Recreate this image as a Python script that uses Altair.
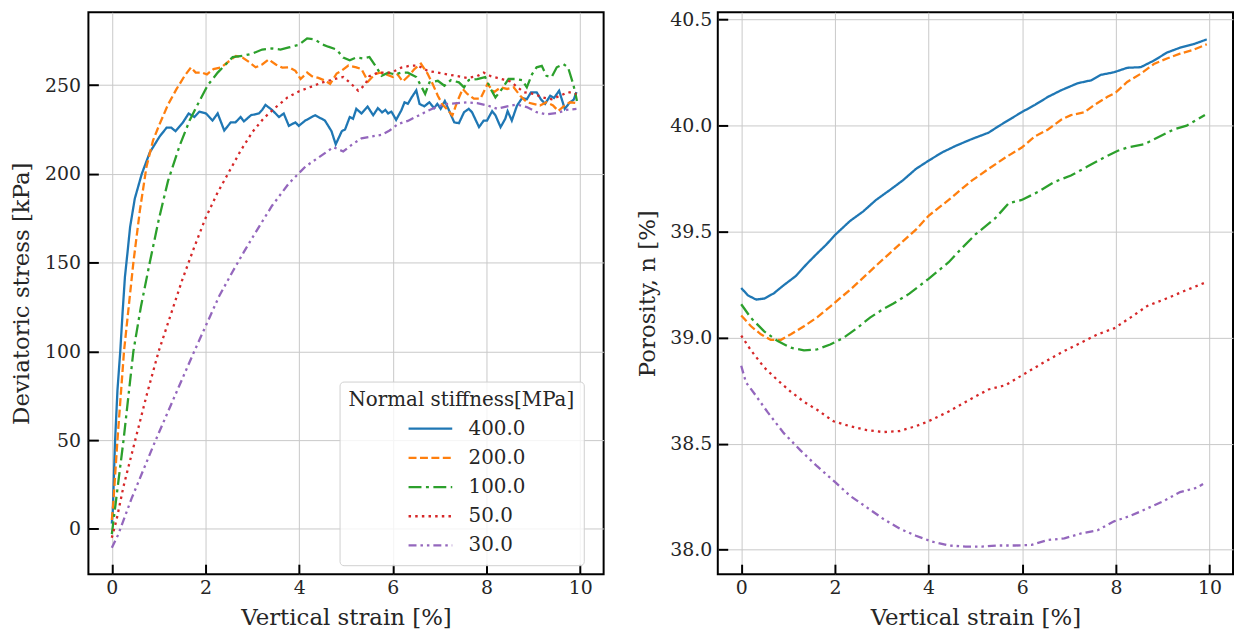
import altair as alt
import pandas as pd

FONT = "DejaVu Serif"
TXT = "#262626"

series_labels = ["400.0", "200.0", "100.0", "50.0", "30.0"]
series_colors = ["#1f77b4", "#ff7f0e", "#2ca02c", "#d62728", "#9467bd"]
series_dashes = [[1, 0], [8, 3.5], [13, 4.5, 3, 4.5], [2.5, 4.2], [8, 4, 2.5, 4, 2.5, 4]]
legend_title = "Normal stiffness[MPa]"

x_ticks = [0, 2, 4, 6, 8, 10]
stress_ticks = [0, 50, 100, 150, 200, 250]
poro_ticks = [38.0, 38.5, 39.0, 39.5, 40.0, 40.5]

# ---- Deviatoric stress vs vertical strain ----
s400_x = [0, 0.02, 0.07, 0.12, 0.18, 0.23, 0.28, 0.34, 0.39, 0.49, 0.64, 0.81, 0.88, 1.02, 1.17, 1.27,
          1.36, 1.52, 1.64, 1.76, 1.87, 2.01, 2.15, 2.26, 2.40, 2.54, 2.64, 2.75, 2.82, 2.97, 3.14,
          3.21, 3.28, 3.42, 3.57, 3.67, 3.78, 3.92, 3.99, 4.13, 4.34, 4.55, 4.69, 4.78, 4.91, 4.98,
          5.08, 5.15, 5.22, 5.33, 5.46, 5.58, 5.68, 5.77, 5.84, 5.90, 5.97, 6.07, 6.18, 6.25, 6.32,
          6.40, 6.50, 6.57, 6.67, 6.78, 6.88, 6.95, 7.02, 7.11, 7.20, 7.31, 7.41, 7.52, 7.62, 7.69,
          7.84, 7.94, 8.01, 8.12, 8.19, 8.30, 8.40, 8.45, 8.54, 8.65, 8.76, 8.86, 8.95, 9.07, 9.16,
          9.25, 9.36, 9.44, 9.55, 9.67, 9.78, 9.86, 9.92]
s400_y = [3, 10, 50, 78, 100, 122, 142, 157, 170, 186, 200, 212, 215, 221, 226, 226,
          224, 229, 234, 232, 235, 234, 230, 234, 224.4, 229, 229, 232, 229.5, 233, 234,
          236, 238.8, 236, 232, 234, 227, 229, 227, 230, 233, 230, 224, 216.6, 224, 225,
          232, 231, 236.6, 234, 237.9, 233, 237, 234.6, 236, 234, 235, 230.4, 235.7, 240.3, 239.4,
          243, 247, 239.4, 238, 240.3, 237, 239.4, 236.6, 241, 235.7, 229, 228.5, 234.7, 236.6, 234.7,
          226.3, 230, 230, 235.3, 233, 226.3, 231, 235.3, 230, 238.4, 242.7, 242, 245.9, 245.9, 242,
          239.4, 244, 242.7, 246.8, 236.6, 240.3, 241.7, 246]

s200_x = [0, 0.03, 0.12, 0.26, 0.46, 0.60, 0.74, 0.88, 1.02, 1.20, 1.38, 1.55, 1.69, 1.79, 1.93, 2.03,
          2.17, 2.34, 2.51, 2.65, 2.79, 2.93, 3.07, 3.21, 3.35, 3.50, 3.64, 3.78, 3.92, 4.03, 4.17,
          4.27, 4.41, 4.56, 4.66, 4.80, 4.90, 5.05, 5.22, 5.33, 5.47, 5.61, 5.72, 5.86, 6.00, 6.10,
          6.21, 6.35, 6.46, 6.60, 6.74, 6.85, 6.96, 7.06, 7.17, 7.27, 7.38, 7.49, 7.59, 7.73, 7.87,
          8.02, 8.16, 8.30, 8.44, 8.58, 8.72, 8.86, 9.00, 9.14, 9.28, 9.42, 9.53, 9.67, 9.78, 9.92]
s200_y = [5, 14, 50, 100, 150, 179.6, 204, 218.8, 228, 239, 247.7, 255, 260, 257, 257, 256,
          259, 260, 263.6, 266.4, 265.5, 263, 260, 261.6, 264.4, 261.6, 259.8, 260, 258, 253.4, 257,
          255, 254, 252.4, 250.6, 256.5, 258, 261, 260, 259, 252, 256, 257, 256, 254.5, 256,
          252, 255.5, 259, 262, 256.5, 250.6, 244, 239, 236, 232.8, 241, 247.8, 245, 242.3, 242.3,
          250.6, 246, 248.7, 247.8, 248.7, 244, 240.3, 239.4, 238.5, 240.3, 238.5, 235.4, 238.5, 240.3, 239.8]

s100_x = [0, 0.08, 0.25, 0.46, 0.62, 0.81, 1.00, 1.20, 1.45, 1.66, 1.87, 2.05, 2.26, 2.43, 2.58, 2.79,
          3.00, 3.21, 3.42, 3.60, 3.78, 3.99, 4.17, 4.34, 4.48, 4.62, 4.80, 4.94, 5.08, 5.22, 5.36,
          5.50, 5.65, 5.76, 5.90, 6.04, 6.18, 6.32, 6.50, 6.60, 6.69, 6.78, 6.96, 7.10, 7.24, 7.41,
          7.52, 7.62, 7.80, 7.97, 8.09, 8.19, 8.33, 8.47, 8.62, 8.76, 8.86, 8.97, 9.07, 9.18, 9.28,
          9.39, 9.50, 9.64, 9.74, 9.85, 9.90, 9.93]
s100_y = [-3, 14, 50, 100, 125, 150, 174, 196, 216, 230, 241, 250, 257, 261.6, 265.8, 266.4,
          267.7, 270, 270.6, 270, 271.2, 272.6, 276.3, 275.7, 273, 271.6, 270, 265.5, 264, 265.5, 265,
          265.8, 260, 255.2, 257, 256, 257, 257, 254.5, 249.6, 245, 251.5, 252.4, 249.6, 252.8, 251.5,
          248.7, 252.8, 253.4, 254.5, 247.8, 243, 247.8, 253.4, 253.4, 252.8, 248.7, 256, 260, 260.8, 255.2,
          254.5, 260, 261.8, 260, 250.6, 245, 241]

s50_x = [0, 0.10, 0.25, 0.50, 0.75, 1.00, 1.25, 1.50, 1.75, 2.00, 2.25, 2.50, 2.75, 3.00, 3.25, 3.50,
         3.75, 4.00, 4.25, 4.50, 4.84, 4.94, 5.10, 5.26, 5.40, 5.50, 5.68, 5.97, 6.18, 6.35, 6.53,
         6.74, 6.96, 7.17, 7.38, 7.59, 7.80, 7.94, 8.09, 8.23, 8.37, 8.51, 8.65, 8.79, 9.00, 9.21,
         9.39, 9.57, 9.74, 9.92]
s50_y = [-5, 5, 24, 50, 76, 100, 120, 140, 158, 175, 189, 201, 213, 223.5, 231.5, 237.5,
         243, 246.5, 249, 251.5, 254, 254.5, 251, 246.8, 250, 255, 257, 257, 259.8, 260.8, 261,
         258, 257, 256, 255, 254, 255, 257, 255, 254, 253, 252, 249, 246, 245, 243,
         242, 244, 246, 245]

s30_x = [0, 0.14, 0.42, 0.92, 1.38, 1.76, 2.29, 2.58, 2.82, 3.00, 3.42, 3.78, 4.13, 4.48, 4.73, 4.94,
         5.12, 5.33, 5.54, 5.76, 5.93, 6.11, 6.32, 6.53, 6.74, 6.96, 7.17, 7.38, 7.59, 7.80, 8.02,
         8.23, 8.44, 8.65, 8.86, 9.07, 9.28, 9.50, 9.71, 9.92]
s30_y = [-10.7, -3, 17, 49, 77, 100, 131, 145, 156, 164, 182, 194.6, 204, 210.4, 215, 212.6,
         216.3, 220, 221, 222, 224.4, 228, 229.8, 232.6, 235.4, 238, 239.4, 239.8, 240.3, 239.8, 238.5,
         236.6, 238, 239, 237.6, 234.7, 233.5, 234.2, 236, 236.6]

# ---- Porosity vs vertical strain ----
p400_x = [0, 0.14, 0.32, 0.50, 0.70, 0.91, 1.16, 1.40, 1.61, 1.82, 2.00, 2.32, 2.60, 2.88, 3.17, 3.45,
          3.73, 4.00, 4.29, 4.57, 4.90, 5.28, 5.49, 5.78, 5.99, 6.27, 6.55, 6.83, 7.18, 7.47, 7.68,
          7.96, 8.24, 8.53, 8.81, 9.09, 9.37, 9.65, 9.94]
p400_y = [39.235, 39.20, 39.18, 39.185, 39.21, 39.248, 39.29, 39.348, 39.395, 39.44, 39.484, 39.55,
          39.595, 39.65, 39.696, 39.742, 39.796, 39.835, 39.874, 39.904, 39.935, 39.967, 39.997, 40.036,
          40.064, 40.098, 40.136, 40.167, 40.20, 40.214, 40.24, 40.252, 40.273, 40.276, 40.307, 40.345,
          40.368, 40.384, 40.407]

p200_x = [0, 0.21, 0.42, 0.63, 0.85, 1.06, 1.34, 1.62, 1.90, 2.00, 2.32, 2.60, 2.88, 3.17, 3.45, 3.73,
          4.00, 4.43, 4.70, 4.93, 5.28, 5.64, 5.99, 6.27, 6.55, 6.83, 7.04, 7.33, 7.54, 7.82, 8.00,
          8.24, 8.53, 8.81, 9.09, 9.37, 9.65, 9.94]
p200_y = [39.105, 39.054, 39.016, 38.99, 38.99, 39.016, 39.054, 39.096, 39.147, 39.166, 39.225, 39.282,
          39.34, 39.398, 39.454, 39.51, 39.575, 39.65, 39.70, 39.742, 39.796, 39.85, 39.897, 39.95,
          39.982, 40.028, 40.05, 40.064, 40.098, 40.136, 40.157, 40.206, 40.245, 40.291, 40.317, 40.34,
          40.358, 40.384]

p100_x = [0, 0.21, 0.49, 0.78, 1.06, 1.34, 1.62, 1.90, 2.18, 2.46, 2.75, 3.03, 3.24, 3.59, 4.00, 4.43,
          4.70, 5.00, 5.43, 5.71, 5.99, 6.34, 6.69, 7.04, 7.39, 7.75, 8.03, 8.24, 8.60, 8.88, 9.23,
          9.51, 9.90]
p100_y = [39.158, 39.093, 39.03, 38.984, 38.953, 38.94, 38.945, 38.968, 38.999, 39.043, 39.095, 39.135,
          39.16, 39.208, 39.278, 39.356, 39.42, 39.487, 39.565, 39.634, 39.65, 39.688, 39.735, 39.765,
          39.807, 39.85, 39.881, 39.897, 39.912, 39.943, 39.982, 40.0, 40.05]

p50_x = [0, 0.21, 0.49, 0.78, 1.06, 1.34, 1.62, 1.97, 2.32, 2.68, 3.03, 3.38, 3.73, 4.00, 4.43, 4.86,
         5.28, 5.64, 5.99, 6.41, 6.83, 7.26, 7.61, 7.96, 8.31, 8.67, 9.09, 9.51, 9.94]
p50_y = [39.01, 38.94, 38.86, 38.799, 38.745, 38.698, 38.66, 38.606, 38.583, 38.564, 38.555, 38.56,
         38.583, 38.606, 38.652, 38.706, 38.756, 38.776, 38.822, 38.877, 38.93, 38.977, 39.016, 39.044,
         39.095, 39.15, 39.186, 39.225, 39.263]

p30_x = [0, 0.10, 0.28, 0.56, 0.91, 1.26, 1.62, 2.00, 2.32, 2.68, 3.03, 3.38, 3.73, 4.08, 4.43, 4.79,
         5.14, 5.49, 5.85, 6.20, 6.55, 6.90, 7.26, 7.61, 7.96, 8.31, 8.67, 9.02, 9.37, 9.72, 9.86]
p30_y = [38.868, 38.79, 38.737, 38.65, 38.55, 38.47, 38.394, 38.32, 38.255, 38.20, 38.146, 38.10,
         38.066, 38.038, 38.02, 38.015, 38.015, 38.02, 38.02, 38.023, 38.046, 38.054, 38.077, 38.092,
         38.134, 38.16, 38.195, 38.23, 38.272, 38.292, 38.31]


def long_frame(pairs):
    rows = []
    for label, (xs, ys) in zip(series_labels, pairs):
        for i, (xv, yv) in enumerate(zip(xs, ys)):
            rows.append({"series": label, "x": xv, "y": yv, "i": i})
    return pd.DataFrame(rows)


stress_df = long_frame([(s400_x, s400_y), (s200_x, s200_y), (s100_x, s100_y),
                        (s50_x, s50_y), (s30_x, s30_y)])
poro_df = long_frame([(p400_x, p400_y), (p200_x, p200_y), (p100_x, p100_y),
                      (p50_x, p50_y), (p30_x, p30_y)])

common_axis = dict(
    labelFont=FONT, labelFontSize=19, labelColor=TXT,
    titleFont=FONT, titleFontSize=23, titleFontWeight="normal", titleColor=TXT,
    tickColor="black", tickWidth=2, tickSize=alt.ExprRef("-10"),
    domain=False, grid=True, gridColor="#c9c9c9", gridWidth=1,
)

legend = alt.Legend(
    orient="none", legendX=253, legendY=372,
    symbolType="M-2.2,0H2.2", symbolSize=400, symbolStrokeWidth=2.3, symbolOffset=71,
    labelFont=FONT, labelFontSize=20, labelColor=TXT, labelOffset=27,
    titleFont=FONT, titleFontSize=20, titleFontWeight="normal", titleColor=TXT,
    titleLimit=400, labelLimit=200,
    titlePadding=7, rowPadding=7.4, padding=9,
    fillColor="rgba(255,255,255,0.8)", strokeColor="#d0d0d0", cornerRadius=4,
)


def panel(df, ytitle, ydomain, yticks, yfmt, lab_pad, ext, tpad, show_legend):
    lg = legend if show_legend else None
    return alt.Chart(df).mark_line(strokeWidth=2.3, strokeCap="butt").encode(
        x=alt.X("x:Q", scale=alt.Scale(domain=[-0.5, 10.5], nice=False, zero=False),
                axis=alt.Axis(values=x_ticks, format="d", title="Vertical strain [%]",
                              labelPadding=15, minExtent=24, maxExtent=24, titlePadding=9,
                              **common_axis)),
        y=alt.Y("y:Q", scale=alt.Scale(domain=ydomain, nice=False, zero=False),
                axis=alt.Axis(values=yticks, format=yfmt, title=ytitle,
                              labelPadding=lab_pad, minExtent=ext, maxExtent=ext,
                              titlePadding=tpad, **common_axis)),
        color=alt.Color("series:N", sort=series_labels, title=legend_title, legend=lg,
                        scale=alt.Scale(domain=series_labels, range=series_colors)),
        strokeDash=alt.StrokeDash("series:N", sort=series_labels, title=legend_title, legend=lg,
                                  scale=alt.Scale(domain=series_labels, range=series_dashes)),
        order=alt.Order("i:Q"),
    ).properties(width=519, height=566)


left = panel(stress_df, "Deviatoric stress [kPa]", [-25.5, 291], stress_ticks, "d", 18, 45, 10, True)
right = panel(poro_df, "Porosity, n [%]", [37.885, 40.535], poro_ticks, ".1f", 16, 52, 7, False)

chart = alt.hconcat(left, right, spacing=31).resolve_scale(
    y="independent"
).properties(
    padding={"left": 2, "top": -1, "right": 0, "bottom": 0}
).configure_view(stroke="black", strokeWidth=2)

chart.save("out.html", embed_options={"renderer": "svg", "actions": False})
